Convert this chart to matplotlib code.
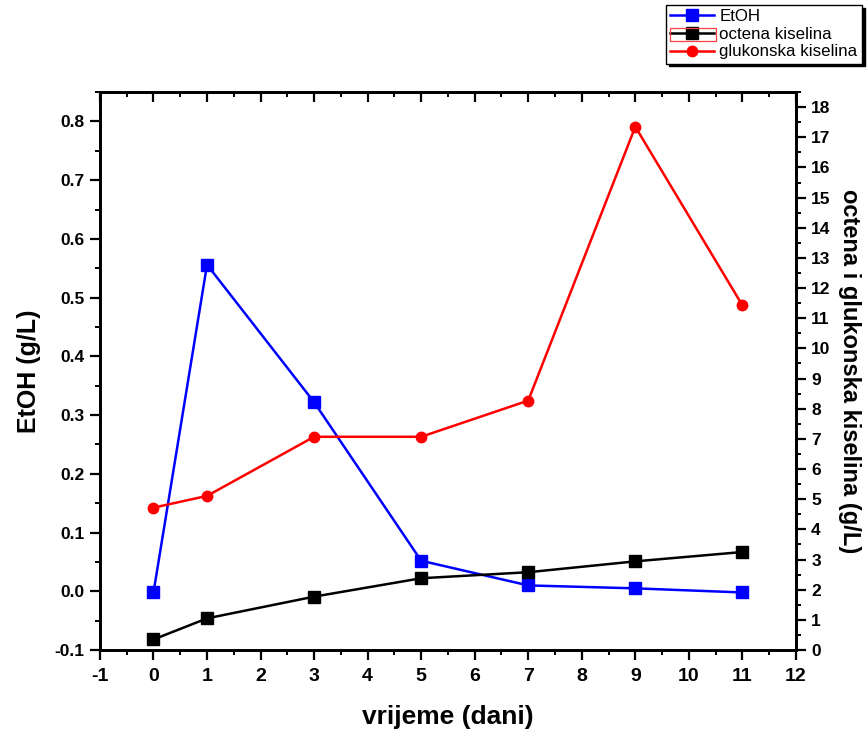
import matplotlib.pyplot as plt
from matplotlib.ticker import MultipleLocator
from matplotlib.patches import Rectangle

plt.rcParams['font.family'] = ['Liberation Sans', 'DejaVu Sans']
narrow = ['Liberation Sans Narrow', 'Liberation Sans', 'DejaVu Sans']

# days
dani = [0, 1, 3, 5, 7, 9, 11]
# left axis, g/L
etoh = [-0.002, 0.556, 0.322, 0.052, 0.010, 0.005, -0.002]
# right axis, g/L
octena = [0.35, 1.05, 1.77, 2.38, 2.58, 2.94, 3.25]
glukonska = [4.72, 5.11, 7.07, 7.07, 8.27, 17.35, 11.43]

fig = plt.figure(figsize=(8.67, 7.38), dpi=100)
ax = fig.add_axes([0.1153, 0.1192, 0.8027, 0.7561])
ax2 = ax.twinx()

l1, = ax.plot(dani, etoh, color='blue', lw=1.8, marker='s', ms=8.5, label='EtOH')
l2, = ax2.plot(dani, octena, color='black', lw=1.8, marker='s', ms=8.5, label='octena kiselina')
l3, = ax2.plot(dani, glukonska, color='red', lw=1.8, marker='o', ms=7.5, label='glukonska kiselina')

ax.set_xlim(-1, 12)
ax.set_ylim(-0.1, 0.85)
ax2.set_ylim(0, 18.5)

ax.xaxis.set_major_locator(MultipleLocator(1))
ax.xaxis.set_minor_locator(MultipleLocator(0.5))
ax.yaxis.set_major_locator(MultipleLocator(0.1))
ax.yaxis.set_minor_locator(MultipleLocator(0.05))
ax2.yaxis.set_major_locator(MultipleLocator(1))
ax2.yaxis.set_minor_locator(MultipleLocator(0.5))

ax.set_xticks(range(-1, 13))
ax.set_xticklabels([str(i) for i in range(-1, 13)], family=narrow, fontsize=14, fontweight='bold')
ax.set_yticks([i / 10 for i in range(-1, 9)])
ax.set_yticklabels(['%.1f' % (i / 10) for i in range(-1, 9)], fontsize=12.5, fontweight='bold')
ax2.set_yticks(range(0, 19))
ax2.set_yticklabels([str(i) for i in range(0, 19)], fontsize=12.5, fontweight='bold')

for a in (ax, ax2):
    for s in a.spines.values():
        s.set_linewidth(2.0)

ax.tick_params(axis='x', which='both', bottom=True, top=False, direction='out', pad=6)
ax.tick_params(axis='y', which='both', left=True, right=False, direction='out', pad=4)
ax2.tick_params(axis='y', which='both', direction='out', pad=4)
for a in (ax, ax2):
    a.tick_params(which='major', length=7, width=1.6)
    a.tick_params(which='minor', length=3.6, width=1.4)

# top ticks point inward
top = ax.secondary_xaxis('top')
top.xaxis.set_major_locator(MultipleLocator(1))
top.xaxis.set_minor_locator(MultipleLocator(0.5))
top.tick_params(which='both', direction='in', labeltop=False)
top.tick_params(which='major', length=7, width=1.6)
top.tick_params(which='minor', length=3.6, width=1.4)
top.spines['top'].set_linewidth(2.0)

ax.set_xlabel('vrijeme (dani)', family=narrow, fontsize=19, fontweight='bold', labelpad=14)
ax.set_ylabel('EtOH (g/L)', fontsize=18, fontweight='bold', labelpad=10)
ax2.set_ylabel('octena i glukonska kiselina (g/L)', fontsize=17, fontweight='bold',
               rotation=270, labelpad=22)

leg = fig.legend(handles=[l1, l2, l3], loc='upper right', bbox_to_anchor=(0.994, 0.993),
                 fontsize=12.2, frameon=True, fancybox=False, shadow={'color': 'black', 'alpha': 1},
                 edgecolor='black', framealpha=1, handlelength=2.6, borderpad=0.25,
                 labelspacing=0.15, handletextpad=0.3, borderaxespad=0)
leg.get_frame().set_linewidth(1.0)

# red selection box around the second legend handle
fig.canvas.draw()
inv = fig.transFigure.inverted()
tb = leg.get_texts()[1].get_window_extent().transformed(inv)
fb = leg.get_frame().get_window_extent().transformed(inv)
x0 = fb.x0 + 0.005
x1 = tb.x0 - 0.004
fig.add_artist(Rectangle((x0, tb.y0 + 0.001), x1 - x0, tb.height - 0.002,
                         transform=fig.transFigure, fill=False, edgecolor='#ff4040',
                         lw=0.9, zorder=10))

fig.savefig('out.png', dpi=100)
